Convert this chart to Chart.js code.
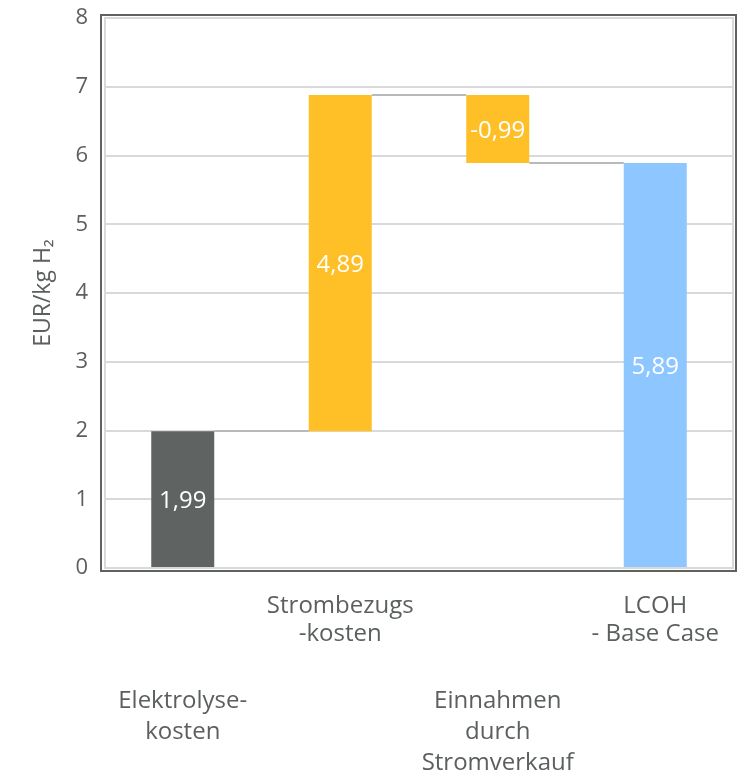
<!DOCTYPE html>
<html>
<head>
<meta charset="utf-8">
<script src="https://cdn.jsdelivr.net/npm/chart.js@4/dist/chart.umd.min.js"></script>
<style>
  html, body { margin: 0; padding: 0; background: #ffffff; }
  #wrap { width: 746px; height: 774px; position: relative; }
</style>
</head>
<body>
<div id="wrap"><canvas id="c"></canvas></div>
<script>
// Cost build-up of hydrogen (LCOH), EUR per kg H2
const categories = ['Elektrolysekosten', 'Strombezugskosten', 'Einnahmen durch Stromverkauf', 'LCOH - Base Case'];
// labels shown in the upper row (2nd and 4th bar) and the lower row (1st and 3rd bar)
const upperLabels = ['', ['Strombezugs', '-kosten'], '', ['LCOH', '- Base Case']];
const lowerLabels = [['Elektrolyse-', 'kosten'], '', ['Einnahmen', 'durch', 'Stromverkauf'], ''];
const values = [1.99, 4.89, -0.99, 5.89];
const isTotal = [false, false, false, true];
const barColors = ['#5f6362', '#ffbf27', '#ffbf27', '#8ec6ff'];
const yTicks = [0, 1, 2, 3, 4, 5, 6, 7, 8];

// floating [start, end] ranges for the waterfall
const ranges = [];
const levels = [];
let running = 0;
values.forEach((v, i) => {
  if (isTotal[i]) {
    ranges.push([0, v]);
    running = v;
  } else {
    ranges.push([running, running + v]);
    running += v;
  }
  levels.push(running);
});

const FONT = "'Open Sans', 'Noto Sans', sans-serif";
const TEXT = '#5b5f5e';

const framePlugin = {
  id: 'frame',
  beforeDatasetsDraw(chart) {
    const { ctx, chartArea: a } = chart;
    ctx.save();
    ctx.strokeStyle = '#d9d9d9';
    ctx.lineWidth = 2;
    ctx.beginPath();
    ctx.moveTo(a.left + 1, a.top);
    ctx.lineTo(a.left + 1, a.bottom);
    ctx.moveTo(a.right - 1, a.top);
    ctx.lineTo(a.right - 1, a.bottom);
    ctx.stroke();
    ctx.strokeStyle = '#5f6360';
    ctx.lineWidth = 2;
    ctx.strokeRect(a.left - 3, a.top - 3, a.right - a.left + 5, a.bottom - a.top + 6);
    ctx.restore();
  }
};

const connectorPlugin = {
  id: 'connectors',
  afterDatasetsDraw(chart) {
    const { ctx } = chart;
    const meta = chart.getDatasetMeta(0);
    const y = chart.scales.y;
    ctx.save();
    ctx.strokeStyle = '#b6bab9';
    ctx.lineWidth = 2;
    for (let i = 0; i < meta.data.length - 1; i++) {
      const a = meta.data[i], b = meta.data[i + 1];
      const py = Math.round(y.getPixelForValue(levels[i]));
      ctx.beginPath();
      ctx.moveTo(a.x + a.width / 2, py);
      ctx.lineTo(b.x - b.width / 2, py);
      ctx.stroke();
    }
    // value labels inside the bars
    ctx.fillStyle = '#ffffff';
    ctx.font = "24px " + FONT;
    ctx.textAlign = 'center';
    ctx.textBaseline = 'middle';
    meta.data.forEach((el, i) => {
      const txt = values[i].toFixed(2).replace('.', ',');
      ctx.fillText(txt, el.x, (el.y + el.base) / 2 + 2);
    });
    ctx.restore();
  }
};

new Chart(document.getElementById('c'), {
  type: 'bar',
  data: {
    labels: categories,
    datasets: [{
      data: ranges,
      backgroundColor: barColors,
      borderWidth: 0,
      categoryPercentage: 1,
      barPercentage: 0.4
    }]
  },
  options: {
    responsive: true,
    maintainAspectRatio: false,
    animation: false,
    layout: { padding: { top: 18, right: 12, left: 0, bottom: 0 } },
    plugins: { legend: { display: false }, tooltip: { enabled: false } },
    scales: {
      x: {
        type: 'category',
        labels: upperLabels,
        position: 'bottom',
        grid: { display: false, drawTicks: false },
        border: { display: false },
        ticks: {
          padding: 24, maxRotation: 0, autoSkip: false,
          color: TEXT, font: { family: FONT, size: 24, lineHeight: 1.18 }
        },
        afterFit(s) { s.height = 83; s.paddingLeft = 0; s.paddingRight = 0; }
      },
      x2: {
        type: 'category',
        labels: lowerLabels,
        position: 'bottom',
        offset: true,
        grid: { display: false, drawTicks: false },
        border: { display: false },
        ticks: {
          padding: 35, maxRotation: 0, autoSkip: false,
          color: TEXT, font: { family: FONT, size: 24, lineHeight: 1.28 }
        },
        afterFit(s) { s.height = 123; s.paddingLeft = 0; s.paddingRight = 0; }
      },
      y: {
        min: 0, max: 8,
        afterBuildTicks(s) { s.ticks = yTicks.map(v => ({ value: v })); },
        grid: { color: '#d9d9d9', lineWidth: 2, drawTicks: false },
        border: { display: false },
        ticks: {
          padding: 16,
          color: TEXT, font: { family: FONT, size: 22 }
        },
        title: {
          display: true,
          text: 'EUR/kg H\u2082',
          color: TEXT,
          font: { family: FONT, size: 23 },
          padding: { top: 30, bottom: 0 }
        },
        afterFit(s) { s.width = 104; s.paddingTop = 0; s.paddingBottom = 0; }
      }
    }
  },
  plugins: [framePlugin, connectorPlugin]
});
</script>
</body>
</html>
